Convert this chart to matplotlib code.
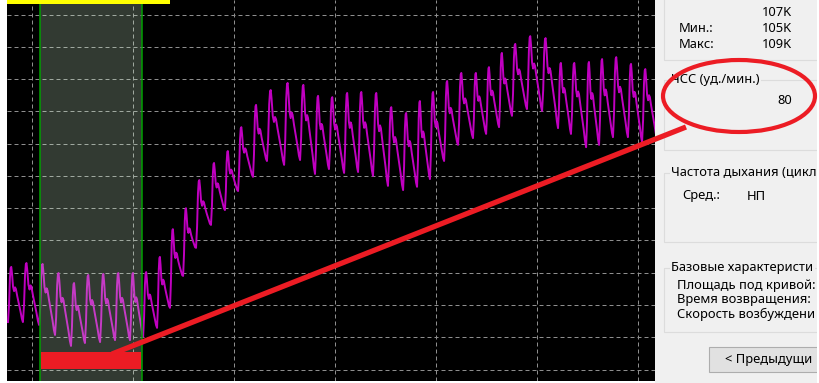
import matplotlib
matplotlib.use('Agg')
import matplotlib.pyplot as plt
from matplotlib.patches import Rectangle, Ellipse

# pulse wave: beat onsets (s), trough level at each onset, systolic peak of each beat
beat_onset = [3.81, 4.55, 5.35, 6.14, 6.93, 7.62, 8.37, 9.11, 9.85, 10.50,
              11.19, 11.83, 12.48, 13.12, 13.86, 14.55, 15.20, 15.94, 16.63, 17.48,
              18.27, 19.01, 19.70, 20.45, 21.14, 21.88, 22.62, 23.37, 24.06, 24.70,
              25.40, 26.09, 26.83, 27.48, 28.12, 28.76, 29.50, 30.25, 31.04, 31.68,
              32.43, 33.07, 33.76, 34.50, 35.20, 35.93]
foot_level = [1.47, 1.47, 1.38, 1.07, 0.73, 0.82, 0.85, 0.91, 0.91, 1.01,
              1.29, 1.91, 2.90, 3.77, 4.48, 4.94, 5.53, 5.97, 6.46, 6.34,
              6.49, 6.06, 6.21, 6.09, 6.12, 6.00, 5.69, 5.56, 5.66, 5.90,
              6.46, 6.96, 7.17, 7.30, 7.51, 7.86, 8.07, 8.01, 7.48, 7.30,
              6.89, 6.96, 7.20, 7.20, 7.05, 7.20]
peak_level = [3.18, 3.30, 3.27, 2.99, 2.68, 2.93, 2.96, 2.99, 2.99, 3.02,
              3.49, 4.35, 5.00, 5.87, 6.40, 6.77, 7.51, 8.20, 8.66, 8.88,
              8.82, 8.48, 8.44, 8.57, 8.60, 8.57, 8.13, 7.95, 8.32, 8.60,
              8.94, 9.19, 9.19, 9.37, 9.81, 10.09, 10.33, 10.27, 9.50, 9.50,
              9.53, 9.62, 9.68, 9.47, 9.31]

# shape of a single pulse (0 = foot, 1 = systolic peak), with dicrotic notch
pulse_phase = [0.00, 0.07, 0.13, 0.18, 0.22, 0.27, 0.34, 0.41, 0.47, 0.53, 0.62, 0.73, 0.84, 0.93, 1.00]
pulse_shape = [0.00, 0.30, 0.80, 0.98, 1.00, 0.88, 0.64, 0.56, 0.63, 0.60, 0.47, 0.33, 0.19, 0.06, 0.00]

# baseline segment highlighted in the recording
sel_start, sel_end = 5.40, 10.45

x_grid = [5, 10, 15, 20, 25, 30, 35]
y_grid = list(range(12))

# side panel (right part of the panel is cut by the window edge)
stats_labels = ['', 'Мин.:', 'Макс:']
stats_values = ['107K', '105K', '109K']
hr_title = 'ЧСС (уд./мин.)'
hr_value = '80'
resp_title = 'Частота дыхания (цикл'
resp_label = 'Сред.:'
resp_value = 'НП'
base_title = 'Базовые характеристи'
base_items = ['Площадь под кривой:', 'Время возвращения:', 'Скорость возбуждени']
button_text = '< Предыдущи'

t, v = [], []
for i in range(len(peak_level)):
    t0, t1 = beat_onset[i], beat_onset[i + 1]
    f0, f1 = foot_level[i], foot_level[i + 1]
    for ph, sh in zip(pulse_phase[:-1], pulse_shape[:-1]):
        base = f0 + (f1 - f0) * ph
        t.append(t0 + (t1 - t0) * ph)
        v.append(base + (peak_level[i] - base) * sh)
t.append(beat_onset[-1])
v.append(foot_level[-1])

W, H = 819, 383
fig = plt.figure(figsize=(W / 100, H / 100), dpi=100, facecolor='white')

# waveform area
ax = fig.add_axes([7 / W, 2 / H, 648 / W, 381 / H])
ax.set_facecolor('black')
ax.set_xlim(3.762, 35.84)
ax.set_ylim(-0.356, 11.45)
for s in ax.spines.values():
    s.set_visible(False)
ax.set_xticks([])
ax.set_yticks([])
for gx in x_grid:
    ax.axvline(gx, color='#8e8e8e', lw=0.72, ls=(0, (4, 3)), zorder=1)
for gy in y_grid:
    ax.axhline(gy, color='#8e8e8e', lw=0.72, ls=(0, (4, 3)), zorder=1)
ax.plot(t, v, color='#c000c0', lw=1.4, zorder=2)
ax.axvspan(sel_start, sel_end, facecolor=(0.85, 1.0, 0.85), alpha=0.23, lw=0, zorder=3)
ax.axvline(sel_start, color='#00a000', lw=1.1, zorder=4)
ax.axvline(sel_end, color='#00a000', lw=1.1, zorder=4)

# side panel, in pixel coordinates
pn = fig.add_axes([655 / W, 0, 162 / W, 1])
pn.set_xlim(655, 817)
pn.set_ylim(H, 0)
pn.set_facecolor('#f0f0f0')
pn.set_xticks([])
pn.set_yticks([])
for s in pn.spines.values():
    s.set_visible(False)

bc = '#dcdcdc'
font = dict(family=['Noto Sans', 'DejaVu Sans'], fontsize=9.3, color='black', clip_on=True)


def group_box(top, bottom, title=None):
    pn.add_patch(Rectangle((664, top), 200, bottom - top, fill=False, ec=bc, lw=0.8, clip_on=True))
    if title:
        pn.text(671, top, title, va='center', ha='left',
                bbox=dict(fc='#f0f0f0', ec='none', pad=1.0), **font)


group_box(-20, 60)
for i, (lab, val) in enumerate(zip(stats_labels, stats_values)):
    y = 13 + 15.5 * i
    if lab:
        pn.text(679, y, lab, va='center', ha='left', **font)
    pn.text(792, y, val, va='center', ha='right', **font)

group_box(80, 150, hr_title)
pn.text(792, 101, hr_value, va='center', ha='right', **font)

group_box(173, 242, resp_title)
pn.text(682, 196, resp_label, va='center', ha='left', **font)
pn.text(747, 196, resp_value, va='center', ha='left', **font)

group_box(268, 332, base_title)
for i, item in enumerate(base_items):
    pn.text(677, 286 + 14 * i, item, va='center', ha='left', **font)

pn.add_patch(Rectangle((709, 347), 130, 25, fc='#e1e1e1', ec='#adadad', lw=0.8, clip_on=True))
pn.text(725, 360, button_text, va='center', ha='left', **font)

# markup drawn over the screenshot
ov = fig.add_axes([0, 0, 1, 1])
ov.set_xlim(0, W)
ov.set_ylim(H, 0)
ov.axis('off')
ov.patch.set_alpha(0)
red = '#ec1c24'
ov.add_patch(Rectangle((7, 0), 163, 4, fc='#ffff00', ec='none'))
ov.add_patch(Rectangle((41, 352), 100, 17, fc=red, ec='none'))
ov.plot([112, 686], [354, 127], color=red, lw=3.8, solid_capstyle='butt')
ov.add_patch(Ellipse((739, 96), 152, 72, fill=False, ec=red, lw=3.0))

fig.savefig('out.png', dpi=100, facecolor='white')
